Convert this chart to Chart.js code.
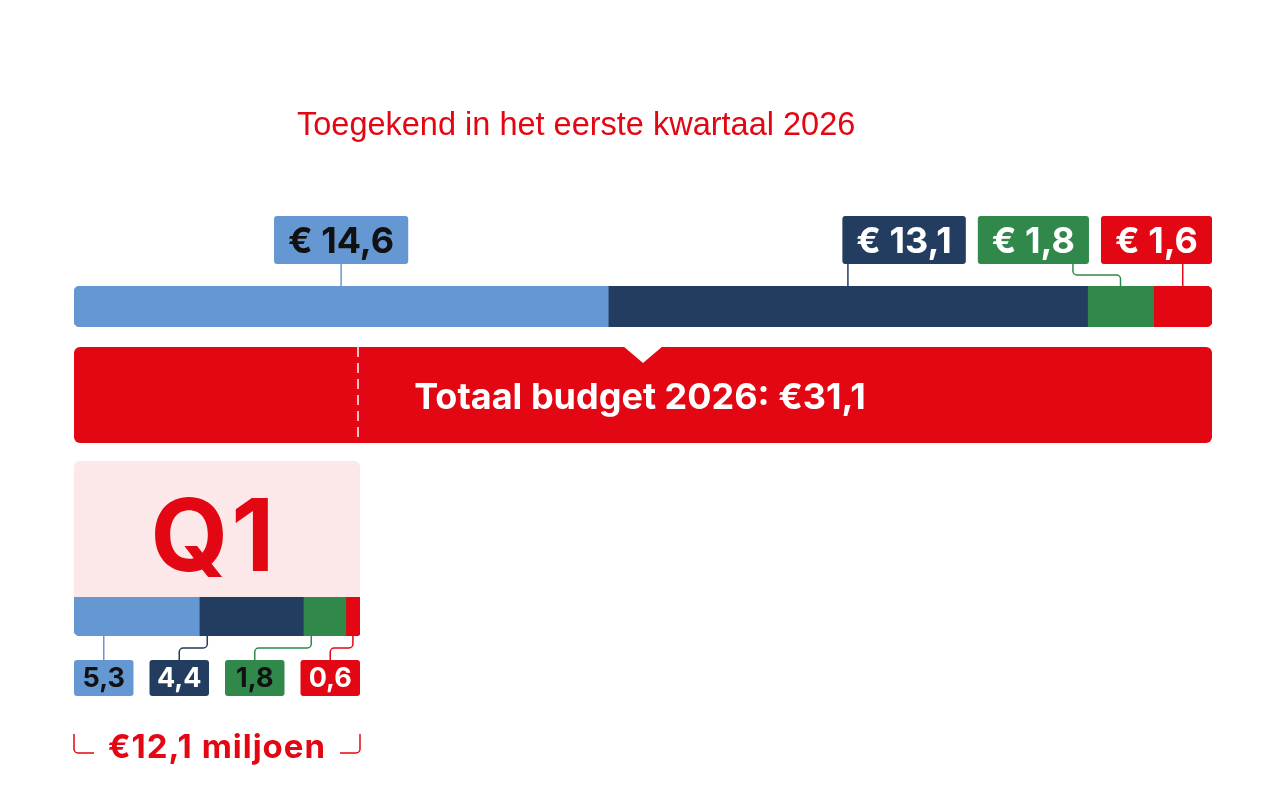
<!DOCTYPE html>
<html>
<head>
<meta charset="utf-8">
<script src="https://cdn.jsdelivr.net/npm/chart.js@4.4.1/dist/chart.umd.min.js"></script>
<style>
html, body { margin: 0; padding: 0; background: #fff; }
#wrap { position: relative; width: 1280px; height: 800px; }
#wrap canvas { position: absolute; left: 0; top: 0; }
</style>
</head>
<body>
<div id="wrap">
  <canvas id="yearChart" width="1280" height="800"></canvas>
  <canvas id="q1Chart" width="1280" height="800"></canvas>
</div>
<script>
// data
const seriesNames = ['Lichtblauw', 'Donkerblauw', 'Groen', 'Rood']
const yearValues = [14.6, 13.1, 1.8, 1.6]
const q1Values = [5.3, 4.4, 1.8, 0.6]
const yearTotal = 31.1
const q1Total = 12.1
const titleText = 'Toegekend in het eerste kwartaal 2026'
const totalText = 'Totaal budget 2026: €31,1'
const q1Label = 'Q1'
const q1SumText = '€12,1 miljoen'

// stijl
const colors = ['#6598d3', '#223d5f', '#30884b', '#e30613']
const yearTextColors = ['#111111', '#ffffff', '#ffffff', '#ffffff']
const q1TextColors = ['#111111', '#ffffff', '#111111', '#ffffff']
const RED = '#e30613'
const PINK = '#fde8e9'
const BOLD = '"Inter", "Liberation Sans", sans-serif'

function fmt(v) {
    return v.toFixed(1).replace('.', ',')
}

function segments(scale, values) {
    let cum = 0
    return values.map(v => {
        const s = scale.getPixelForValue(cum)
        cum += v
        const e = scale.getPixelForValue(cum)
        return { s: s, e: e, m: (s + e) / 2 }
    })
}

function fillBox(ctx, x, y, w, h, r, color) {
    ctx.beginPath()
    ctx.roundRect(x, y, w, h, r)
    ctx.fillStyle = color
    ctx.fill()
}

function connector(ctx, x1, y1, x2, y2, color) {
    ctx.save()
    ctx.strokeStyle = color
    ctx.lineWidth = 1.5
    ctx.beginPath()
    ctx.moveTo(x1, y1)
    if (Math.abs(x1 - x2) < 1) {
        ctx.lineTo(x1, y2)
    } else {
        const ym = (y1 + y2) / 2
        ctx.arcTo(x1, ym, x2, ym, 4)
        ctx.arcTo(x2, ym, x2, y2, 4)
        ctx.lineTo(x2, y2)
    }
    ctx.stroke()
    ctx.restore()
}

const yearDecor = {
    id: 'yearDecor',
    afterDatasetsDraw(chart) {
        const ctx = chart.ctx
        const a = chart.chartArea
        const segs = segments(chart.scales.x, yearValues)
        ctx.save()

        // titel
        ctx.font = '32.5px "Liberation Sans", sans-serif'
        ctx.fillStyle = RED
        ctx.textAlign = 'left'
        ctx.textBaseline = 'alphabetic'
        ctx.fillText(titleText, 297, a.top - 151)

        // labels boven de balk
        ctx.font = 'bold 36px ' + BOLD
        const boxH = 48
        const boxTop = a.top - 70
        const texts = yearValues.map(v => '€ ' + fmt(v))
        const widths = texts.map(t => ctx.measureText(t).width + 28)
        const boxes = []
        let right = a.right
        for (let i = yearValues.length - 1; i >= 1; i--) {
            boxes[i] = { l: right - widths[i], r: right }
            right = right - widths[i] - 12
        }
        boxes[0] = { l: segs[0].m - widths[0] / 2, r: segs[0].m + widths[0] / 2 }

        for (let i = 0; i < boxes.length; i++) {
            const b = boxes[i]
            let x1 = segs[i].m
            if (x1 > b.r - 4) x1 = b.r - 16
            if (x1 < b.l + 4) x1 = b.l + 16
            connector(ctx, x1, boxTop + boxH, segs[i].m, a.top, colors[i])
            fillBox(ctx, b.l, boxTop, b.r - b.l, boxH, 3, colors[i])
            ctx.fillStyle = yearTextColors[i]
            ctx.textAlign = 'center'
            ctx.textBaseline = 'middle'
            ctx.fillText(texts[i], (b.l + b.r) / 2, boxTop + boxH / 2 + 2)
        }

        // rood totaalblok met inkeping
        const rTop = a.bottom + 20
        const rH = 96
        fillBox(ctx, a.left, rTop, a.right - a.left, rH, 6, RED)
        const nx = (a.left + a.right) / 2
        ctx.beginPath()
        ctx.moveTo(nx - 20, rTop - 1)
        ctx.lineTo(nx + 20, rTop - 1)
        ctx.lineTo(nx, rTop + 16)
        ctx.closePath()
        ctx.fillStyle = '#ffffff'
        ctx.fill()

        ctx.fillStyle = '#ffffff'
        ctx.font = 'bold 36px ' + BOLD
        ctx.textAlign = 'center'
        ctx.textBaseline = 'middle'
        ctx.fillText(totalText, nx - 3, rTop + rH / 2 + 3)
        ctx.restore()
    }
}

const q1Decor = {
    id: 'q1Decor',
    beforeDatasetsDraw(chart) {
        const ctx = chart.ctx
        const a = chart.chartArea
        ctx.save()
        fillBox(ctx, a.left, a.top - 136, a.right - a.left, 150, [6, 6, 0, 0], PINK)

        // stippellijn in het rode blok
        ctx.strokeStyle = '#ffffff'
        ctx.lineWidth = 1.5
        ctx.setLineDash([10, 6])
        ctx.beginPath()
        ctx.moveTo(a.right - 2, a.top - 250)
        ctx.lineTo(a.right - 2, a.top - 154)
        ctx.stroke()
        ctx.setLineDash([])

        ctx.fillStyle = RED
        ctx.font = 'bold 100px ' + BOLD
        ctx.letterSpacing = '3px'
        ctx.textAlign = 'center'
        ctx.textBaseline = 'alphabetic'
        ctx.fillText(q1Label, (a.left + a.right) / 2 - 3, a.top - 26)
        ctx.letterSpacing = '0px'
        ctx.restore()
    },
    afterDatasetsDraw(chart) {
        const ctx = chart.ctx
        const a = chart.chartArea
        const segs = segments(chart.scales.x, q1Values)
        ctx.save()

        const gap = 16
        const n = q1Values.length
        const w = (a.right - a.left - gap * (n - 1)) / n
        const boxTop = a.bottom + 24
        const boxH = 36
        ctx.font = 'bold 27px ' + BOLD
        for (let i = 0; i < n; i++) {
            const l = a.left + i * (w + gap)
            const c = l + w / 2
            const x1 = Math.min(Math.max(segs[i].s + 8, c), segs[i].m)
            connector(ctx, x1, a.bottom, c, boxTop, colors[i])
            fillBox(ctx, l, boxTop, w, boxH, 3, colors[i])
            ctx.fillStyle = q1TextColors[i]
            ctx.textAlign = 'center'
            ctx.textBaseline = 'middle'
            ctx.fillText(fmt(q1Values[i]), c, boxTop + boxH / 2 + 1)
        }

        // totaal Q1 met haakjes
        const cy = a.bottom + 112
        ctx.fillStyle = RED
        ctx.font = 'bold 33px ' + BOLD
        ctx.letterSpacing = '1px'
        ctx.textAlign = 'center'
        ctx.textBaseline = 'middle'
        ctx.fillText(q1SumText, (a.left + a.right) / 2, cy)
        ctx.letterSpacing = '0px'
        ctx.strokeStyle = RED
        ctx.lineWidth = 1.5
        ctx.beginPath()
        ctx.moveTo(a.left, cy - 14)
        ctx.arcTo(a.left, cy + 5, a.left + 20, cy + 5, 4)
        ctx.lineTo(a.left + 20, cy + 5)
        ctx.moveTo(a.right - 20, cy + 5)
        ctx.arcTo(a.right, cy + 5, a.right, cy - 14, 4)
        ctx.lineTo(a.right, cy - 14)
        ctx.stroke()
        ctx.restore()
    }
}

function makeDatasets(values, radii) {
    return values.map((v, i) => ({
        label: seriesNames[i],
        data: [v],
        backgroundColor: colors[i],
        borderRadius: radii[i],
        borderSkipped: false,
        barPercentage: 1,
        categoryPercentage: 1
    }))
}

function baseOptions(max, padding) {
    return {
        indexAxis: 'y',
        responsive: false,
        animation: false,
        layout: { padding: padding },
        scales: {
            x: { stacked: true, min: 0, max: max, display: false },
            y: { stacked: true, display: false }
        },
        plugins: { legend: { display: false }, tooltip: { enabled: false } }
    }
}

const r6 = 6
new Chart(document.getElementById('yearChart').getContext('2d'), {
    type: 'bar',
    data: {
        labels: ['2026'],
        datasets: makeDatasets(yearValues, [
            { topLeft: r6, bottomLeft: r6, topRight: 0, bottomRight: 0 }, 0, 0,
            { topLeft: 0, bottomLeft: 0, topRight: r6, bottomRight: r6 }
        ])
    },
    options: baseOptions(yearTotal, { left: 74, right: 68, top: 286, bottom: 473 }),
    plugins: [yearDecor]
})

new Chart(document.getElementById('q1Chart').getContext('2d'), {
    type: 'bar',
    data: {
        labels: ['Q1'],
        datasets: makeDatasets(q1Values, [
            { topLeft: 0, bottomLeft: r6, topRight: 0, bottomRight: 0 }, 0, 0,
            { topLeft: 0, bottomLeft: 0, topRight: 0, bottomRight: 4 }
        ])
    },
    options: baseOptions(q1Total, { left: 74, right: 920, top: 597, bottom: 164 }),
    plugins: [q1Decor]
})
</script>
</body>
</html>
